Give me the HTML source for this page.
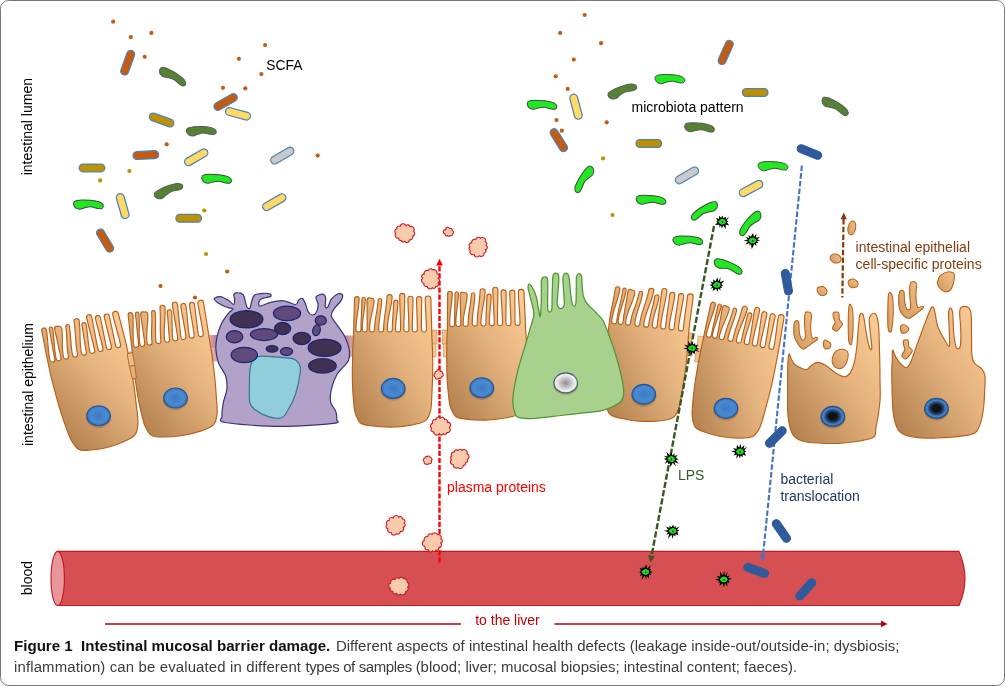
<!DOCTYPE html>
<html><head><meta charset="utf-8"><title>Figure 1</title>
<style>
html,body{margin:0;padding:0;background:#fff;}
body{width:1005px;height:686px;position:relative;overflow:hidden;font-family:"Liberation Sans",sans-serif;}
.frame{position:absolute;left:0;top:0;width:1003px;height:684px;border:1px solid #787878;border-radius:8.5px;box-sizing:content-box;}
svg{position:absolute;left:0;top:0;will-change:transform;}
svg text{font-family:"Liberation Sans",sans-serif;}
.cap{position:absolute;left:14px;top:635.9px;width:980px;font-size:14.93px;line-height:20.8px;color:#3c3c3c;white-space:nowrap;}
#r1{font-size:14.99px;}
.cap b{color:#111;font-weight:bold;font-size:15.1px;margin-right:1.5px;}
</style></head><body>
<div class="frame"></div>
<svg width="1005" height="686" viewBox="0 0 1005 686">
<defs>
<linearGradient id="tan" x1="1" y1="0" x2="0" y2="1">
<stop offset="0" stop-color="#fdcf9a"/><stop offset="0.42" stop-color="#e6b47e"/><stop offset="1" stop-color="#ae7c4a"/>
</linearGradient>
<linearGradient id="tanf" x1="1" y1="0" x2="0" y2="1">
<stop offset="0" stop-color="#f3c189"/><stop offset="1" stop-color="#d09a5f"/>
</linearGradient>
<radialGradient id="nuc" cx="0.5" cy="0.5" r="0.5">
<stop offset="0" stop-color="#3b7ac0"/><stop offset="0.7" stop-color="#4a8ad0"/><stop offset="0.9" stop-color="#3f7ec4"/><stop offset="1" stop-color="#2a62a8"/>
</radialGradient>
<radialGradient id="nucd" cx="0.5" cy="0.5" r="0.5">
<stop offset="0" stop-color="#101010"/><stop offset="0.36" stop-color="#131416"/><stop offset="0.62" stop-color="#264a7a"/><stop offset="0.8" stop-color="#4682c6"/><stop offset="0.93" stop-color="#3b76ba"/><stop offset="1" stop-color="#2a5fa5"/>
</radialGradient>
<radialGradient id="nucw" cx="0.5" cy="0.5" r="0.5">
<stop offset="0" stop-color="#8e8e8e"/><stop offset="0.45" stop-color="#c2c2c2"/><stop offset="0.8" stop-color="#eeeeee"/><stop offset="1" stop-color="#dcdcdc"/>
</radialGradient>
<linearGradient id="jp" x1="0" y1="0" x2="1" y2="0">
<stop offset="0" stop-color="#e2ad96"/><stop offset="1" stop-color="#a86fa0"/>
</linearGradient>
<linearGradient id="jp2" x1="1" y1="0" x2="0" y2="0">
<stop offset="0" stop-color="#e2ad96"/><stop offset="1" stop-color="#a86fa0"/>
</linearGradient>
</defs>
<path d="M57.7,551.4 L959,551.4 Q971,578.4 959,605.5 L57.7,605.5 Z" fill="#d64f52" stroke="#c4161c" stroke-width="1.1"/>
<ellipse cx="57.7" cy="578.45" rx="6.7" ry="27.05" fill="#e9969a" stroke="#c4161c" stroke-width="1.1"/>
<path d="M105,623.9H461M554.5,623.9H882" stroke="#c00000" stroke-width="1.5" fill="none"/>
<path d="M887.5,623.9l-6.5,-3.4v6.8z" fill="#c00000"/>
<rect x="126" y="352" width="9" height="14" fill="#f0c08a" stroke="#c98a4a" stroke-width="0.6"/>
<rect x="128" y="366" width="9" height="13" fill="#f5cb98" stroke="#c98a4a" stroke-width="0.6"/>
<rect x="209" y="335" width="10" height="13.5" fill="url(#jp)"/>
<rect x="211" y="348.5" width="8" height="13" fill="#dba9a4"/>
<rect x="340" y="335.5" width="15" height="12.5" fill="url(#jp2)"/>
<rect x="341" y="348" width="14" height="9" fill="#dba9a4"/>
<rect x="430" y="330" width="7" height="14" fill="#f0c08a" stroke="#c98a4a" stroke-width="0.6"/>
<rect x="430" y="344" width="6" height="13" fill="#f5cb98" stroke="#c98a4a" stroke-width="0.6"/>
<rect x="442.5" y="330" width="6.5" height="14" fill="#f0c08a" stroke="#c98a4a" stroke-width="0.6"/>
<rect x="443.5" y="344" width="5.5" height="13" fill="#f5cb98" stroke="#c98a4a" stroke-width="0.6"/>
<rect x="686" y="333" width="6" height="23" fill="#f0c08a" stroke="#c98a4a" stroke-width="0.6"/>
<rect x="696.5" y="336" width="7.5" height="13" fill="#f5cb98" stroke="#c98a4a" stroke-width="0.6" transform="rotate(8 698 349)"/>
<rect x="696.5" y="349" width="6.5" height="13" fill="#f0c08a" stroke="#c98a4a" stroke-width="0.6" transform="rotate(8 698 349)"/>
<path transform="translate(87.2,354.5) rotate(-12.5)" d="M-40,-0C-40,-10.7 -39.4,-21 -39.2,-32.9C-39.2,-36.2 -34.5,-36.2 -34.5,-32.9C-35.1,-21 -37.6,-13.2 -37.6,-2.5C-37.6,0.8 -32.6,0.8 -32.6,-2.5C-32.6,-13 -31.8,-20.5 -31.5,-32.8C-31.5,-35.4 -28.1,-35.4 -28.1,-32.8C-28.8,-20.5 -31.2,-13 -31.2,-2.5C-31.2,0.8 -26.2,0.8 -26.2,-2.5C-26.2,-12.9 -26.3,-20.3 -26.3,-31.2C-26.3,-33.9 -25.7,-34.2 -24.3,-34.2L-21.4,-33.6C-19.8,-33.6 -19.2,-33.3 -19.2,-30.7C-20.1,-20.3 -23.7,-12.9 -23.7,-2.5C-23.7,0.8 -18.7,0.8 -18.7,-2.5C-18.7,-12.6 -15.7,-19.8 -14.9,-31.5C-14.9,-34.2 -11.3,-34.2 -11.3,-31.5C-11.9,-19.8 -14.4,-12.6 -14.4,-2.5C-14.4,0.8 -9.4,0.8 -9.4,-2.5C-9.4,-13.8 -6.4,-22.2 -5.7,-34.8C-5.7,-38.2 -0.6,-38.2 -0.6,-34.8C-1.5,-22.2 -5.3,-13.8 -5.3,-2.5C-5.3,0.8 -0.3,0.8 -0.3,-2.5C-0.3,-12.2 0.9,-18.8 1.2,-29.6C1.2,-32.6 5.5,-32.6 5.5,-29.6C5,-18.8 3.2,-12.2 3.2,-2.5C3.2,0.8 8.2,0.8 8.2,-2.5C8.2,-14.2 7.6,-22.9 7.4,-36C7.4,-39.4 12.5,-39.4 12.5,-36C12.3,-22.9 11.7,-14.2 11.7,-2.5C11.7,0.8 16.7,0.8 16.7,-2.5C16.7,-13.4 16,-21.2 15.8,-33.2C15.8,-36.6 20.9,-36.6 20.9,-33.2C20.8,-21.2 20.3,-13.4 20.3,-2.5C20.3,0.8 25.3,0.8 25.3,-2.5C25.3,-13.2 24.9,-21 24.8,-32.8C24.8,-36.2 29.9,-36.2 29.9,-32.8C29.8,-21 29.7,-13.2 29.7,-2.5C29.7,0.8 34.7,0.8 34.7,-2.5C34.7,-13.5 33.8,-21.5 33.6,-33.2C33.6,-37 39.3,-37 39.3,-33.2C39.5,-21.5 40.3,-11 40.3,0C40.2,6.5 40.2,12.6 39.9,19.2C39.7,25.8 39.4,32.8 38.9,39.6C38.4,46.4 37.7,53.5 37,60C36.3,66.5 35.9,73.6 34.6,78.4C33.3,83.2 32.5,86.1 29.4,88.6C26.4,91 21.7,92 16.5,93.1C11.3,94.2 4.4,95 -1.6,95.1C-7.6,95.2 -15.1,94.4 -19.7,93.7C-24.2,93 -26.5,92.9 -28.9,90.7C-31.3,88.5 -32.9,83.8 -34,80.4C-35.2,77 -35.2,75.3 -35.9,70.2C-36.6,65.1 -37.7,58.3 -38.3,49.8C-39,41.3 -39.6,27.5 -39.9,19.2C-40.2,10.9 -40,6.5 -40,-0Z" fill="url(#tan)" stroke="#b8601a" stroke-width="1.15" stroke-linejoin="round"/>
<path transform="translate(170.2,341.8) rotate(-7.7)" d="M-38.9,1.2C-38.9,-9.6 -38.3,-19.9 -38.1,-31.9C-38.1,-35.1 -33.4,-35.1 -33.4,-31.9C-34.1,-19.9 -36.6,-12.1 -36.6,-1.4C-36.6,1.9 -31.6,1.7 -31.6,-1.6C-31.6,-12.1 -30.9,-19.6 -30.7,-31.9C-30.7,-34.5 -27.3,-34.5 -27.3,-31.9C-27.9,-19.6 -30.4,-12.1 -30.4,-1.6C-30.4,1.7 -25.4,1.6 -25.4,-1.7C-25.4,-12.1 -25.6,-19.6 -25.6,-30.5C-25.6,-33.2 -25,-33.5 -23.6,-33.5L-20.7,-32.9C-19.1,-32.9 -18.5,-32.6 -18.5,-30C-19.5,-19.6 -23.1,-12.2 -23.1,-1.8C-23.1,1.5 -18.1,1.3 -18.1,-2C-18.1,-12.1 -15.2,-19.4 -14.5,-31.1C-14.5,-33.8 -10.9,-33.8 -10.9,-31.1C-11.5,-19.4 -14,-12.2 -14,-2.1C-14,1.2 -9,1.1 -9,-2.2C-9,-13.6 -6.3,-22.1 -5.6,-34.7C-5.6,-38.1 -0.5,-38.1 -0.5,-34.7C-1.5,-22.1 -5.3,-13.7 -5.3,-2.3C-5.3,1 -0.3,0.8 -0.3,-2.5C-0.3,-12.2 0.8,-18.9 1.1,-29.6C1.1,-32.7 5.4,-32.7 5.4,-29.6C4.9,-18.9 3,-12.3 3,-2.6C3,0.7 8,0.6 8,-2.7C8,-14.4 7.3,-23.2 7.1,-36.2C7.1,-39.7 12.2,-39.7 12.2,-36.2C12,-23.2 11.3,-14.5 11.3,-2.8C11.3,0.5 16.3,0.3 16.3,-3C16.3,-13.8 15.5,-21.8 15.3,-33.7C15.3,-37.1 20.4,-37.1 20.4,-33.7C20.3,-21.8 19.7,-14 19.7,-3.1C19.7,0.2 24.7,0.1 24.7,-3.2C24.7,-14 24.1,-21.8 24,-33.5C24,-37 29.1,-37 29.1,-33.5C29,-21.8 28.8,-14.1 28.8,-3.4C28.8,-0.1 33.8,-0.2 33.8,-3.5C33.8,-14.5 32.8,-22.5 32.6,-34.3C32.6,-38.1 38.3,-38.1 38.3,-34.3C38.4,-22.5 39.1,-12.2 39.1,-1.2C39.2,5.4 39.5,11.6 39.6,18.3C39.6,25 39.6,32.1 39.4,39C39.2,45.9 38.9,53.2 38.4,59.7C38,66.2 37.9,73.2 36.7,78C35.6,82.7 34.8,85.7 31.7,88.1C28.5,90.6 23.4,91.5 17.9,92.6C12.3,93.7 4.8,94.5 -1.7,94.6C-8.3,94.7 -16.4,93.9 -21.3,93.2C-26.2,92.5 -28.7,92.4 -31.2,90.2C-33.6,88 -35.1,83.4 -36.2,80C-37.3,76.6 -37.2,74.9 -37.8,69.8C-38.3,64.8 -39.1,58.1 -39.4,49.7C-39.7,41.4 -39.7,28 -39.6,19.9C-39.5,11.8 -39,7.6 -38.9,1.2Z" fill="url(#tan)" stroke="#b8601a" stroke-width="1.15" stroke-linejoin="round"/>
<path transform="translate(392.6,332) rotate(0)" d="M-38.9,-0C-38.9,-10.7 -38.3,-21 -38.1,-32.9C-38.1,-36.2 -33.4,-36.2 -33.4,-32.9C-34.1,-21 -36.6,-13.2 -36.6,-2.5C-36.6,0.8 -31.6,0.8 -31.6,-2.5C-31.6,-13 -30.9,-20.5 -30.7,-32.8C-30.7,-35.4 -27.3,-35.4 -27.3,-32.8C-27.9,-20.5 -30.4,-13 -30.4,-2.5C-30.4,0.8 -25.4,0.8 -25.4,-2.5C-25.4,-12.9 -25.6,-20.3 -25.6,-31.2C-25.6,-33.9 -25,-34.2 -23.6,-34.2L-20.7,-33.6C-19.1,-33.6 -18.5,-33.3 -18.5,-30.7C-19.5,-20.3 -23.1,-12.9 -23.1,-2.5C-23.1,0.8 -18.1,0.8 -18.1,-2.5C-18.1,-12.6 -15.2,-19.8 -14.5,-31.5C-14.5,-34.2 -10.9,-34.2 -10.9,-31.5C-11.5,-19.8 -14,-12.6 -14,-2.5C-14,0.8 -9,0.8 -9,-2.5C-9,-13.8 -6.3,-22.2 -5.6,-34.8C-5.6,-38.2 -0.5,-38.2 -0.5,-34.8C-1.5,-22.2 -5.3,-13.8 -5.3,-2.5C-5.3,0.8 -0.3,0.8 -0.3,-2.5C-0.3,-12.2 0.8,-18.8 1.1,-29.6C1.1,-32.6 5.4,-32.6 5.4,-29.6C4.9,-18.8 3,-12.2 3,-2.5C3,0.8 8,0.8 8,-2.5C8,-14.2 7.3,-22.9 7.1,-36C7.1,-39.4 12.2,-39.4 12.2,-36C12,-22.9 11.3,-14.2 11.3,-2.5C11.3,0.8 16.3,0.8 16.3,-2.5C16.3,-13.4 15.5,-21.2 15.3,-33.2C15.3,-36.6 20.4,-36.6 20.4,-33.2C20.3,-21.2 19.7,-13.4 19.7,-2.5C19.7,0.8 24.7,0.8 24.7,-2.5C24.7,-13.2 24.1,-21 24,-32.8C24,-36.2 29.1,-36.2 29.1,-32.8C29,-21 28.8,-13.2 28.8,-2.5C28.8,0.8 33.8,0.8 33.8,-2.5C33.8,-13.5 32.8,-21.5 32.6,-33.2C32.6,-37 38.3,-37 38.3,-33.2C38.4,-21.5 39.1,-11 39.1,0C39.3,6.5 39.7,12.6 39.9,19.2C40.1,25.8 40.2,32.8 40.1,39.6C40,46.4 39.8,53.5 39.4,60C39,66.5 39.1,73.6 38,78.4C36.9,83.2 36.1,86.1 32.9,88.6C29.7,91 24.4,92 18.6,93.1C12.8,94.2 5,95 -1.8,95.1C-8.6,95.2 -17.1,94.4 -22.2,93.7C-27.3,93 -29.8,92.9 -32.4,90.7C-34.9,88.5 -36.4,83.8 -37.5,80.4C-38.6,77 -38.4,75.3 -38.9,70.2C-39.4,65.1 -40,58.3 -40.2,49.8C-40.4,41.3 -40.1,27.5 -39.9,19.2C-39.7,10.9 -39,6.5 -38.9,-0Z" fill="url(#tan)" stroke="#b8601a" stroke-width="1.15" stroke-linejoin="round"/>
<path transform="translate(486.3,326) rotate(-1)" d="M-38.9,-0C-38.9,-10.7 -38.3,-21 -38.1,-32.9C-38.1,-36.2 -33.4,-36.2 -33.4,-32.9C-34.1,-21 -36.6,-13.2 -36.6,-2.5C-36.6,0.8 -31.6,0.8 -31.6,-2.5C-31.6,-13 -30.9,-20.5 -30.7,-32.8C-30.7,-35.4 -27.3,-35.4 -27.3,-32.8C-27.9,-20.5 -30.4,-13 -30.4,-2.5C-30.4,0.8 -25.4,0.8 -25.4,-2.5C-25.4,-12.9 -25.6,-20.3 -25.6,-31.2C-25.6,-33.9 -25,-34.2 -23.6,-34.2L-20.7,-33.6C-19.1,-33.6 -18.5,-33.3 -18.5,-30.7C-19.5,-20.3 -23.1,-12.9 -23.1,-2.5C-23.1,0.8 -18.1,0.8 -18.1,-2.5C-18.1,-12.6 -15.2,-19.8 -14.5,-31.5C-14.5,-34.2 -10.9,-34.2 -10.9,-31.5C-11.5,-19.8 -14,-12.6 -14,-2.5C-14,0.8 -9,0.8 -9,-2.5C-9,-13.8 -6.3,-22.2 -5.6,-34.8C-5.6,-38.2 -0.5,-38.2 -0.5,-34.8C-1.5,-22.2 -5.3,-13.8 -5.3,-2.5C-5.3,0.8 -0.3,0.8 -0.3,-2.5C-0.3,-12.2 0.8,-18.8 1.1,-29.6C1.1,-32.6 5.4,-32.6 5.4,-29.6C4.9,-18.8 3,-12.2 3,-2.5C3,0.8 8,0.8 8,-2.5C8,-14.2 7.3,-22.9 7.1,-36C7.1,-39.4 12.2,-39.4 12.2,-36C12,-22.9 11.3,-14.2 11.3,-2.5C11.3,0.8 16.3,0.8 16.3,-2.5C16.3,-13.4 15.5,-21.2 15.3,-33.2C15.3,-36.6 20.4,-36.6 20.4,-33.2C20.3,-21.2 19.7,-13.4 19.7,-2.5C19.7,0.8 24.7,0.8 24.7,-2.5C24.7,-13.2 24.1,-21 24,-32.8C24,-36.2 29.1,-36.2 29.1,-32.8C29,-21 28.8,-13.2 28.8,-2.5C28.8,0.8 33.8,0.8 33.8,-2.5C33.8,-13.5 32.8,-21.5 32.6,-33.2C32.6,-37 38.3,-37 38.3,-33.2C38.4,-21.5 39.1,-11 39.1,0C39.3,6.5 39.7,12.5 39.9,19C40.1,25.5 40.2,32.5 40.1,39.2C40,45.9 39.8,53 39.4,59.4C39,65.8 39.1,72.9 38,77.6C36.9,82.3 36.1,85.2 32.9,87.7C29.7,90.1 24.4,91 18.6,92.1C12.8,93.2 5,94 -1.8,94.1C-8.6,94.2 -17.1,93.4 -22.2,92.7C-27.3,92 -29.8,91.9 -32.4,89.7C-34.9,87.6 -36.4,82.9 -37.5,79.6C-38.6,76.2 -38.4,74.5 -38.9,69.5C-39.4,64.4 -40,57.7 -40.2,49.3C-40.4,40.9 -40.1,27.2 -39.9,19C-39.7,10.8 -39,6.5 -38.9,-0Z" fill="url(#tan)" stroke="#b8601a" stroke-width="1.15" stroke-linejoin="round"/>
<path transform="translate(648.8,327.5) rotate(5)" d="M-39.8,-0.8C-39.8,-12.1 -37.4,-22.7 -36.8,-35.4C-36.8,-38.7 -32.1,-38.7 -32.1,-35.4C-33.2,-22.7 -37.5,-14.5 -37.5,-3.2C-37.5,0.1 -32.5,0.2 -32.5,-3.1C-32.5,-14.2 -29.9,-22.1 -29.2,-35.1C-29.2,-37.7 -25.8,-37.7 -25.8,-35.1C-26.9,-22.1 -31.1,-14.1 -31.1,-3.1C-31.1,0.2 -26.1,0.3 -26.1,-3C-26.1,-13.9 -24.4,-21.7 -24,-33.3C-24,-36 -23.4,-36.3 -22,-36.3L-19.1,-35.7C-17.5,-35.7 -16.9,-35.4 -16.9,-32.8C-18.3,-21.7 -23.6,-13.9 -23.6,-3C-23.6,0.3 -18.6,0.4 -18.6,-2.9C-18.6,-13.5 -13.9,-21 -12.7,-33.4C-12.7,-36.1 -9.1,-36.1 -9.1,-33.4C-10.2,-21 -14.3,-13.4 -14.3,-2.8C-14.3,0.5 -9.3,0.6 -9.3,-2.7C-9.3,-14.6 -4.5,-23.3 -3.3,-36.7C-3.3,-40.1 1.8,-40.1 1.8,-36.7C0.4,-23.3 -5.3,-14.5 -5.3,-2.6C-5.3,0.7 -0.3,0.8 -0.3,-2.5C-0.3,-12.6 2.5,-19.7 3.2,-31.1C3.2,-34.1 7.5,-34.1 7.5,-31.1C6.6,-19.7 3.2,-12.6 3.2,-2.4C3.2,0.9 8.2,1 8.2,-2.3C8.2,-14.6 9.5,-23.8 9.8,-37.7C9.8,-41.1 14.9,-41.1 14.9,-37.7C14.3,-23.8 11.7,-14.6 11.7,-2.3C11.7,1 16.7,1.1 16.7,-2.2C16.7,-13.6 17.8,-21.9 18,-34.5C18,-38 23.1,-38 23.1,-34.5C22.6,-21.9 20.3,-13.5 20.3,-2.1C20.3,1.2 25.3,1.3 25.3,-2C25.3,-13.3 26.6,-21.5 26.9,-34C26.9,-37.4 32,-37.4 32,-34C31.5,-21.5 29.6,-13.2 29.6,-1.9C29.6,1.4 34.6,1.5 34.6,-1.8C34.6,-13.3 35.5,-21.8 35.8,-34.3C35.8,-38.1 41.5,-38.1 41.5,-34.3C41.2,-21.8 40.2,-10.7 40.2,0.8C40.2,7.3 40.4,13.1 40.4,19.5C40.4,26 40.4,32.8 40.1,39.5C39.8,46.1 39.4,53 38.9,59.4C38.4,65.7 38.2,72.9 37,77.6C35.9,82.3 35,85.2 31.9,87.7C28.7,90.1 23.6,91 18,92.1C12.4,93.2 4.8,94 -1.7,94.1C-8.3,94.2 -16.5,93.4 -21.4,92.7C-26.4,92 -28.8,91.9 -31.3,89.7C-33.8,87.6 -35.4,82.9 -36.5,79.6C-37.6,76.2 -37.6,74.5 -38.1,69.5C-38.7,64.4 -39.6,57.6 -39.9,49.1C-40.3,40.6 -40.4,26.8 -40.4,18.4C-40.4,10.1 -39.9,5.7 -39.8,-0.8Z" fill="url(#tan)" stroke="#b8601a" stroke-width="1.15" stroke-linejoin="round"/>
<path transform="translate(741,343.5) rotate(11)" d="M-37.9,-0C-37.9,-10.7 -37.4,-21 -37.2,-32.9C-37.2,-36.2 -32.5,-36.2 -32.5,-32.9C-33.2,-21 -35.7,-13.2 -35.7,-2.5C-35.7,0.8 -30.7,0.8 -30.7,-2.5C-30.7,-13 -30.1,-20.5 -29.9,-32.8C-29.9,-35.4 -26.5,-35.4 -26.5,-32.8C-27.2,-20.5 -29.7,-13 -29.7,-2.5C-29.7,0.8 -24.7,0.8 -24.7,-2.5C-24.7,-12.9 -25,-20.3 -25.1,-31.2C-25.1,-33.9 -24.5,-34.2 -23.1,-34.2L-20.2,-33.6C-18.6,-33.6 -18,-33.3 -18,-30.7C-18.9,-20.3 -22.6,-12.9 -22.6,-2.5C-22.6,0.8 -17.6,0.8 -17.6,-2.5C-17.6,-12.6 -14.9,-19.8 -14.2,-31.5C-14.2,-34.2 -10.6,-34.2 -10.6,-31.5C-11.2,-19.8 -13.7,-12.6 -13.7,-2.5C-13.7,0.8 -8.7,0.8 -8.7,-2.5C-8.7,-13.8 -6.2,-22.2 -5.5,-34.8C-5.5,-38.2 -0.4,-38.2 -0.4,-34.8C-1.4,-22.2 -5.2,-13.8 -5.2,-2.5C-5.2,0.8 -0.2,0.8 -0.2,-2.5C-0.2,-12.2 0.8,-18.8 1,-29.6C1,-32.6 5.3,-32.6 5.3,-29.6C4.8,-18.8 2.9,-12.2 2.9,-2.5C2.9,0.8 7.9,0.8 7.9,-2.5C7.9,-14.2 7.1,-22.9 6.9,-36C6.9,-39.4 12,-39.4 12,-36C11.8,-22.9 11,-14.2 11,-2.5C11,0.8 16,0.8 16,-2.5C16,-13.4 15.1,-21.2 14.8,-33.2C14.8,-36.6 19.9,-36.6 19.9,-33.2C19.8,-21.2 19.1,-13.4 19.1,-2.5C19.1,0.8 24.1,0.8 24.1,-2.5C24.1,-13.2 23.5,-21 23.3,-32.8C23.3,-36.2 28.4,-36.2 28.4,-32.8C28.3,-21 28,-13.2 28,-2.5C28,0.8 33,0.8 33,-2.5C33,-13.5 31.9,-21.5 31.6,-33.2C31.6,-37 37.3,-37 37.3,-33.2C37.5,-21.5 38.1,-11 38.1,0C38.2,6.5 38.3,12.6 38.2,19.2C38.2,25.8 38.1,32.8 37.8,39.6C37.5,46.4 37,53.5 36.5,60C35.9,66.5 35.7,73.6 34.6,78.4C33.5,83.2 32.6,86.1 29.7,88.6C26.7,91 21.9,92 16.7,93.1C11.5,94.2 4.5,95 -1.6,95.1C-7.7,95.2 -15.3,94.4 -19.9,93.7C-24.5,93 -26.8,92.9 -29.2,90.7C-31.5,88.5 -33,83.8 -34.1,80.4C-35.1,77 -35.1,75.3 -35.7,70.2C-36.2,65.1 -37.1,58.3 -37.5,49.8C-38,41.3 -38.2,27.5 -38.2,19.2C-38.3,10.9 -37.9,6.5 -37.9,-0Z" fill="url(#tan)" stroke="#b8601a" stroke-width="1.15" stroke-linejoin="round"/>
<path d="M127.2,353.8L132.5,352.5 134.7,365.2 129.4,366.5Z" fill="#ecbd88" stroke="#b8601a" stroke-width="0.9" stroke-linejoin="round"/>
<path d="M129.4,366.5L134.7,365.2 136.4,377.9 132.5,379.2Z" fill="#e2b07a" stroke="#b8601a" stroke-width="0.9" stroke-linejoin="round"/>
<path d="M214.2,298.6C214.4,297.6 218.2,296.4 220.3,296.6C222.4,296.8 225.9,298.9 228,300.1C230,301.3 232.9,304.7 233.9,304.5C234.8,304.3 234.5,300.1 234.5,298.6C234.5,297.1 233.4,295.3 233.9,294.4C234.3,293.5 236.4,292.6 237.8,292.7C239.2,292.7 242.1,293.5 243.3,294.9C244.4,296.2 244.9,300 245.4,301.9C246,303.7 246.3,306.3 247,307.3C247.6,308.3 249.1,309.2 249.8,308.4C250.5,307.6 250.9,303.8 251.6,301.9C252.2,299.9 252.8,296.5 254.2,295.3C255.6,294.1 258.4,293.8 260.7,293.6C263,293.3 268,293.3 269.5,293.8C271,294.2 271.7,295.7 270.6,296.4C269.5,297.1 264,297.5 262.3,298.4C260.5,299.2 259.3,300.7 259,301.9C258.7,303 258.3,306.2 260.1,306.2C261.8,306.3 267,303.1 270.6,302.3C274.1,301.5 279.9,300.4 283.7,300.8C287.5,301.1 293.5,304.6 295.7,304.5C297.9,304.4 297.6,301 298.6,300.1C299.5,299.2 301.3,297.9 302.3,298.4C303.3,298.8 304.2,301 305.1,303C306,305 307.1,309.9 308.2,311.7C309.2,313.5 310.9,314.8 312.1,315C313.3,315.1 315.1,314.4 316,312.8C317,311.2 318.2,306.8 318.2,304.5C318.2,302.1 315.4,298.6 316,297C316.7,295.5 321.2,294.1 322.6,294.2C324,294.3 325.3,296.1 325.7,297.9C326,299.8 324.9,305.3 325.2,306.7C325.5,308 326.9,308.2 327.8,307.1C328.8,306 329.8,301.2 331.3,299.2C332.9,297.2 336.6,294.4 338.3,293.8C340,293.2 342.4,294.2 342.7,295.3C343,296.4 341.8,299.4 340.5,301.4C339.2,303.5 335.3,306.7 334,308.9C332.6,311 331,313.8 331.3,316.1C331.7,318.3 334.1,320.6 336.1,323.7C338.2,326.8 342.9,332.9 344.9,336.8C346.9,340.8 348.8,346.3 349.3,349.9C349.8,353.6 350,357.3 348.2,360.9C346.4,364.5 339.8,369.7 337.2,374C334.7,378.3 332.3,385 331.3,389.3C330.4,393.6 330,399.1 330.7,402.4C331.3,405.7 334.8,408.6 335.7,411.1C336.6,413.7 336.9,417.6 336.6,419.5C336.3,421.3 342.1,422.3 333.5,423.4C324.9,424.4 295.6,426.6 279.3,426.4C263.1,426.3 233.7,424.1 225.1,422.5C216.5,420.9 222.3,419 222,416C221.8,412.9 222.6,406.4 223.4,402.4C224.1,398.4 226.5,393.2 226.9,389.3C227.2,385.4 227,380.1 225.8,376.2C224.5,372.2 220,367 218.6,363.1C217.1,359.1 216.2,353.9 215.9,349.9C215.7,346 216.2,340.8 217,336.8C217.8,332.9 219.7,327.3 221.4,323.7C223.1,320.2 226.9,315.5 228.6,313.2C230.3,311 233.2,309.7 233,308.9C232.7,308 229,308.2 226.9,307.3C224.7,306.5 220.5,304.5 218.6,303.2C216.7,301.9 213.9,299.6 214.2,298.6Z" fill="#b3a2c7" stroke="#33337f" stroke-width="1.2" stroke-linejoin="round"/>
<path d="M258.6,356.5C262,355.7 269.9,356.6 274.9,356.9C280,357.3 288.8,357.7 292.4,358.7C296,359.7 297.8,361.5 299,363.5C300.2,365.5 300.8,367.3 300.3,371.8C299.8,376.3 297.6,387.8 295.7,393.7C293.8,399.5 289.8,407.1 287.6,410.7C285.5,414.3 284.4,416.8 281.5,417.7C278.6,418.6 272.4,417.9 268.4,416.6C264.4,415.4 257.6,411.5 254.8,409.4C252,407.3 250.6,406.1 249.8,402.4C249,398.7 249.4,389.5 249.4,384.9C249.4,380.3 249.4,375.2 249.8,371.8C250.2,368.4 250.7,364.3 252,362C253.3,359.7 255.1,357.3 258.6,356.5Z" fill="#92cddc" stroke="#2c7b90" stroke-width="1.2"/>
<ellipse cx="246.5" cy="319.3" rx="16.4" ry="8.7" fill="#403152" stroke="#1a2470" stroke-width="1.25"/>
<ellipse cx="287" cy="313.4" rx="13.6" ry="7.2" fill="#604a7b" stroke="#1a2470" stroke-width="1.25"/>
<ellipse cx="320.8" cy="320.4" rx="5.5" ry="4.6" fill="#604a7b" stroke="#1a2470" stroke-width="1.25"/>
<ellipse cx="316.5" cy="330.3" rx="3.7" ry="5.5" fill="#604a7b" stroke="#1a2470" stroke-width="1.25" transform="rotate(15 316.5 330.3)"/>
<ellipse cx="282.6" cy="328.5" rx="8.1" ry="6.1" fill="#403152" stroke="#1a2470" stroke-width="1.25"/>
<ellipse cx="264" cy="334.6" rx="13.6" ry="5.9" fill="#604a7b" stroke="#1a2470" stroke-width="1.25"/>
<ellipse cx="234.5" cy="336.8" rx="8.3" ry="6.1" fill="#604a7b" stroke="#1a2470" stroke-width="1.25"/>
<ellipse cx="301.8" cy="338.4" rx="8.7" ry="6.1" fill="#403152" stroke="#1a2470" stroke-width="1.25"/>
<ellipse cx="324.6" cy="347.8" rx="16.4" ry="8.7" fill="#403152" stroke="#1a2470" stroke-width="1.25"/>
<ellipse cx="272.1" cy="348.9" rx="5.9" ry="3.3" fill="#403152" stroke="#1a2470" stroke-width="1.25"/>
<ellipse cx="286.5" cy="351.5" rx="6.1" ry="3.9" fill="#604a7b" stroke="#1a2470" stroke-width="1.25"/>
<ellipse cx="244.3" cy="355" rx="13.1" ry="7.7" fill="#604a7b" stroke="#1a2470" stroke-width="1.25"/>
<ellipse cx="322.4" cy="365.9" rx="13.8" ry="7.2" fill="#403152" stroke="#1a2470" stroke-width="1.25"/>
<path d="M515.2,413.9C514.3,411.4 512.5,405.8 512.8,399.9C513.1,393.9 515.6,380 517.5,371.9C519.4,363.8 524.1,349.5 526,343C527.9,336.5 529.9,329.5 531,325.7C532.1,321.9 533.4,318.6 533.7,316.3C534,314 533.8,311.9 533.3,309.3C532.8,306.7 531.1,300.7 530.4,297.7C529.7,294.7 528.3,290.2 528.1,288.3C527.9,286.4 528.6,284.4 529.2,284.2C529.8,284 531.2,285.5 532.2,287.2C533.2,288.9 535.3,293.4 536.2,296.5C537.1,299.6 538,306.5 538.6,309.3C539.2,312.1 539.9,317.9 540.3,316.6C540.7,315.3 541.1,305.2 541.3,300C541.5,294.8 541.1,283.5 541.5,280.2C541.9,276.9 543.5,277.1 544.4,277C545.3,276.9 547.1,276.3 547.6,279.6C548.1,282.9 547.6,295.7 547.6,300C547.6,304.3 547.6,308.2 547.9,309.9C548.2,311.6 549.1,312.3 549.7,312.2C550.3,312.1 551.4,311.9 551.8,309.3C552.2,306.8 552,298.8 552.2,294.2C552.4,289.6 552.4,279.7 552.9,276.7C553.4,273.7 554.9,273.2 555.7,273.2C556.5,273.2 558.5,273.7 558.8,276.7C559.1,279.7 558,290.2 557.8,294.2C557.6,298.2 556.8,302.6 557.2,304.7C557.6,306.8 559.7,308.7 560.7,308.7C561.7,308.7 563.8,307.6 564.2,304.7C564.6,301.8 563.6,292.3 563.4,288.3C563.2,284.3 562.7,278.8 563.1,276.7C563.5,274.6 565.2,273.2 566,273.2C566.8,273.2 568.2,273.7 568.9,276.7C569.6,279.7 570.2,290.3 570.7,294.2C571.2,298.1 571.9,302.4 572.4,304.1C572.9,305.8 573.7,306.5 574.2,306.4C574.7,306.3 575.6,306.1 575.9,303.5C576.2,300.9 576.2,292.1 576.3,288.3C576.4,284.5 576.1,278.8 576.5,276.7C576.9,274.6 578.7,273.6 579.4,273.7C580.1,273.8 581.3,275.1 581.7,277.2C582.1,279.3 582,285.6 582.3,288.3C582.6,291 582.8,294.3 583.5,296.5C584.2,298.7 585.3,301.3 587,303.5C588.7,305.7 592.9,309.2 595.2,311.7C597.5,314.2 601.3,317.4 603.3,321C605.3,324.6 607.7,331.7 609.6,336.9C611.5,342.1 614.8,351.6 616.6,357.9C618.4,364.2 621.4,375.9 622.4,381.2C623.4,386.5 624,392.2 623.6,395.2C623.2,398.2 622.4,400.5 619.4,402.7C616.4,404.9 607.3,409 602.6,410.4C597.9,411.8 591.6,412 586.3,412.7C581,413.4 572.6,414.2 565.3,415C558,415.8 541.5,418.1 535,418.5C528.5,418.9 521.9,418.3 519.1,417.6C516.3,416.9 516.1,416.4 515.2,413.9Z" fill="#a9d18e" stroke="#4f9632" stroke-width="1.25" stroke-linejoin="round"/>
<path d="M789.1,354C789.6,353.2 790.5,357.6 791.4,359.2C792.3,360.8 793.6,363.8 795.7,365.3C797.8,366.8 804,369.7 806.2,369.7C808.4,369.7 809.9,366.3 811.5,365.3C813.1,364.3 815.6,362.3 817.6,362.3C819.6,362.3 822.9,363.8 825.5,365.3C828.1,366.8 833.3,371.6 836,373.2C838.7,374.8 842.7,376.7 844.7,376.7C846.7,376.7 848.6,375.2 850,373.2C851.4,371.2 853.3,366.7 854.3,362.7C855.3,358.7 856.4,350.2 857,345.2C857.6,340.2 857.9,331.8 858.3,327.7C858.7,323.6 859.2,318.3 859.6,316.3C860,314.3 860.7,313.4 861.3,313.4C861.9,313.4 863,314 863.6,316.3C864.2,318.6 865,325.6 865.7,329.5C866.4,333.4 867.6,340.7 868.3,343.5C869,346.3 870.1,349.1 870.6,349.6C871.1,350.1 871.9,349.6 871.8,347C871.7,344.4 870.5,335.2 870.1,331.2C869.7,327.2 869,321.4 869.2,319C869.4,316.6 870.9,314.8 871.8,314.1C872.7,313.4 874.5,313.1 875.3,313.8C876.1,314.5 877.1,316.8 877.6,319C878.1,321.2 878.5,324.1 878.8,329.5C879.1,334.9 879.5,350.2 879.7,357.4C879.9,364.6 880,373.8 880,380C880,386.2 880.6,394.6 880,401.3C879.4,408 877.1,422.3 876,427.5C874.9,432.7 877.1,435.8 872.1,438C867.1,440.2 849.9,442.7 840.6,443.3C831.3,443.9 813.2,443.1 806.5,442C799.8,440.9 796,438.9 793.4,435.4C790.8,431.9 788.9,423.7 788.1,417C787.3,410.3 787.6,395.5 787.6,388.1C787.6,380.7 787.6,369.8 787.8,365C788,360.2 788.6,354.8 789.1,354Z" fill="url(#tan)" stroke="#b8601a" stroke-width="1.15" stroke-linejoin="round"/>
<path d="M892.6,350.1C893,349.4 893.8,353.4 894.9,355.3C896,357.2 898.5,361.5 900.1,363.2C901.7,364.9 904.7,367.7 906.2,367.6C907.7,367.5 909.1,365.4 910.6,362.3C912.1,359.2 914.8,350.8 916.7,345.7C918.6,340.6 921.8,331.5 923.7,326.5C925.6,321.5 928.6,313.5 929.8,310.7C931,307.9 931.8,306.9 932.5,306.9C933.2,306.9 933.9,307.9 934.6,310.7C935.3,313.5 936.5,322.8 937.7,326.5C938.9,330.2 941.5,334.3 943,337C944.5,339.7 947.3,344.7 948.2,345.7C949.1,346.7 949.5,346.7 949.6,344C949.7,341.3 949.2,331 949.1,326.5C949,322 948.4,315.1 948.6,312.5C948.8,309.9 949.7,308.1 950.3,308.1C950.9,308.1 952.1,309.4 952.6,312.5C953.1,315.6 953.1,325.3 953.5,330C953.9,334.7 955,343 955.6,345.7C956.2,348.4 957.1,348.8 957.8,348.8C958.5,348.8 960,348.4 960.4,345.7C960.8,343 960.9,334.7 960.8,330C960.7,325.3 959.6,315.7 959.6,312.5C959.6,309.3 960.2,308.5 960.8,307.6C961.4,306.7 962.8,306.3 963.9,306.3C965,306.3 967.3,306.7 968.3,307.6C969.3,308.5 970.4,309.3 970.9,312.5C971.4,315.7 971.4,324.1 971.5,330C971.6,335.9 971.4,349.7 971.8,354.4C972.2,359.1 973,361.2 974.4,363.2C975.8,365.2 979.9,366.7 981.4,368.4C982.9,370.1 984.4,373.3 984.9,375.4C985.4,377.5 985.2,378.6 985,383C984.8,387.4 984.4,400.6 983.7,406.5C983,412.4 981.5,421 979.8,424.9C978.1,428.8 977.9,432.2 971.9,434.1C965.9,436 946.4,437.6 937.8,438C929.2,438.4 917.1,437.8 911.5,436.7C905.9,435.6 901,433.6 898.4,430.1C895.8,426.6 894,419.6 893.1,411.8C892.2,404 891.9,382.3 891.8,375C891.7,367.7 892.1,363.5 892.2,360C892.3,356.5 892.2,350.8 892.6,350.1Z" fill="url(#tan)" stroke="#b8601a" stroke-width="1.15" stroke-linejoin="round"/>
<path d="M794.9,321.6C794.4,322.1 794.1,322.5 794,324.2C793.9,325.9 793.7,332.4 794,334.7C794.3,337 795.7,340 796.6,341.7C797.5,343.4 799.9,346.9 801,347.8C802.1,348.7 803.2,349.2 804.5,348.7C805.8,348.2 808.9,345.6 810.6,344.3C812.3,343 816.9,340 817.6,339.1C818.3,338.2 816.6,337.4 815.9,337.3C815.2,337.2 813.1,339.5 812.4,338.2C811.7,336.9 810.7,330.7 810.6,327.7C810.5,324.7 811.5,317.5 811.5,315.5C811.5,313.5 811.1,313.3 810.6,312.8C810.1,312.3 808.7,312 808,312C807.3,312 805.9,311.4 805.4,312.8C804.9,314.2 804.5,319.3 804.5,322.5C804.5,325.7 805.5,334.2 805.4,336.5C805.3,338.8 804.2,339.8 803.6,340C803,340.2 801.6,339.4 801,338.2C800.4,337 799.5,333.3 799.2,331.2C798.9,329.1 799.1,323.9 798.9,322.5C798.7,321.1 798,320.8 797.5,320.7C797,320.6 795.4,321.1 794.9,321.6Z" fill="url(#tanf)" stroke="#b8601a" stroke-width="1.05" stroke-linejoin="round"/>
<path d="M824.6,340C825.6,339.8 830,342.5 830.7,343.5C831.4,344.5 830.5,347.1 829.8,347.8C829.1,348.5 826.4,349.3 825.5,349C824.6,348.7 823.5,346.4 823.4,345.2C823.3,344 823.6,340.2 824.6,340Z" fill="url(#tanf)" stroke="#b8601a" stroke-width="1.05" stroke-linejoin="round"/>
<path d="M833.3,312.8C834,312.2 837.8,311.6 838.6,312.5C839.4,313.4 839,318.2 839.5,319.8C840,321.4 843,322.7 842.6,324.2C842.2,325.7 838.1,330.6 836.8,331.2C835.5,331.8 833,329.3 832.5,328.6C832,327.9 833,326.8 833.3,326C833.6,325.2 835.1,323.7 835.1,322.5C835.1,321.3 833.5,318.5 833.3,317.2C833.1,315.9 832.6,313.4 833.3,312.8Z" fill="url(#tanf)" stroke="#b8601a" stroke-width="1.05" stroke-linejoin="round"/>
<path d="M850,304.1C850.5,304.3 852.2,307.1 852.6,310.2C853,313.3 853.2,323.3 853.1,327.7C853,332.1 852.1,341.3 851.7,343.5C851.3,345.7 850.4,344.8 850,344.3C849.6,343.8 848.8,342.9 848.6,340C848.4,337.1 848.2,326.7 848.2,322.5C848.2,318.3 848.5,311 848.7,308.5C848.9,306 849.5,303.9 850,304.1Z" fill="url(#tanf)" stroke="#b8601a" stroke-width="1.05" stroke-linejoin="round"/>
<path d="M839.5,349.6C840.9,349.3 844.4,349.5 845.6,350.1C846.8,350.7 848.1,352.3 848.2,354C848.3,355.7 847.3,360.8 846.5,362.7C845.7,364.6 843.4,367.3 842.1,368C840.8,368.7 838.1,368.6 836.8,368C835.5,367.4 833.1,365 832.5,363.6C831.9,362.2 832.2,358.9 832.5,357.4C832.8,355.9 834.2,353.2 835.1,352.2C836,351.2 838.1,349.9 839.5,349.6Z" fill="url(#tanf)" stroke="#b8601a" stroke-width="1.05" stroke-linejoin="round"/>
<path d="M817.6,287.5C818.3,286.8 821.6,286.3 822.8,286.6C824,286.9 826.5,289 826.9,290.1C827.3,291.2 826.6,293.8 825.8,294.5C825,295.2 822.2,295.7 821.1,295.4C820,295.1 818.1,293 817.6,291.9C817.1,290.8 816.9,288.2 817.6,287.5Z" fill="url(#tanf)" stroke="#b8601a" stroke-width="1.05" stroke-linejoin="round"/>
<path d="M848.6,280.5C849.3,279.7 852.3,278.9 853.5,279.1C854.7,279.3 857.3,281.2 857.8,282.2C858.3,283.2 857.8,285.9 857,286.6C856.2,287.3 852.8,288 851.7,287.8C850.6,287.6 849,285.9 848.6,284.9C848.2,283.9 847.9,281.3 848.6,280.5Z" fill="url(#tanf)" stroke="#b8601a" stroke-width="1.05" stroke-linejoin="round"/>
<path d="M890.1,292.4C890.7,292.7 892.2,294.5 892.6,297.6C893,300.7 893.3,311.6 893.1,316C892.9,320.4 891.9,328.7 891.4,330.8C890.9,332.9 889.6,332.3 889.1,331.7C888.6,331.1 888.1,330 887.9,326.5C887.7,323 887.8,309.7 887.9,305.5C888,301.3 888.1,296.7 888.4,295C888.7,293.3 889.5,292.1 890.1,292.4Z" fill="url(#tanf)" stroke="#b8601a" stroke-width="1.05" stroke-linejoin="round"/>
<path d="M900.1,291.1C899.6,291.7 899.1,293.1 898.9,295C898.7,296.9 898.6,303.2 898.9,305.5C899.2,307.8 900,310.9 901,312.5C902,314.1 904.9,317 906.2,317.7C907.5,318.4 909.2,318.3 910.6,317.7C912,317.1 915,314.6 916.7,313.3C918.4,312 922.7,308.5 923.4,307.6C924.1,306.7 922.8,306.4 922,306.3C921.2,306.2 918.4,308.7 917.6,307.2C916.8,305.7 916,298 915.9,295C915.8,292 916.8,286.2 916.7,284.5C916.6,282.8 915.7,282.2 915,281.9C914.3,281.6 912.5,281.6 911.8,281.9C911.1,282.2 910.4,282.8 910.1,284.5C909.8,286.2 909.6,292 909.7,295C909.8,298 910.8,305.2 910.6,307.2C910.4,309.2 908.9,309.8 908.3,309.8C907.7,309.8 906.4,308.5 905.9,307.2C905.4,305.9 904.7,302.2 904.5,300.2C904.3,298.2 904.3,293.7 904.1,292.4C903.9,291.1 903.2,290.8 902.7,290.6C902.2,290.4 900.6,290.5 900.1,291.1Z" fill="url(#tanf)" stroke="#b8601a" stroke-width="1.05" stroke-linejoin="round"/>
<path d="M901.3,325.1C901.9,324.6 904.4,324.6 905.4,325.1C906.4,325.6 908.8,328.1 908.9,329.1C909,330.1 907.1,332.1 906.2,332.6C905.3,333.1 902.6,333.6 901.9,333.1C901.2,332.6 900.7,330.2 900.6,329.1C900.5,328 900.7,325.6 901.3,325.1Z" fill="url(#tanf)" stroke="#b8601a" stroke-width="1.05" stroke-linejoin="round"/>
<path d="M903.6,340.4C904.2,339.8 907.3,339.3 908,340.1C908.7,340.9 908.3,345.2 908.9,346.6C909.5,348 912.8,349.3 912.4,350.9C912,352.5 907.6,358.1 906.2,358.8C904.8,359.5 902.4,356.9 901.9,356.2C901.4,355.5 902.3,354.5 902.7,353.6C903.1,352.7 904.7,350.7 904.8,349.5C904.9,348.3 903.8,346 903.6,344.8C903.4,343.6 903,341 903.6,340.4Z" fill="url(#tanf)" stroke="#b8601a" stroke-width="1.05" stroke-linejoin="round"/>
<path d="M941.2,274.9C942.4,274 945.7,272.1 947.3,271.9C948.9,271.7 952.6,272.2 953.5,273.1C954.4,274 954.5,276.4 954.3,278.4C954.1,280.4 952.6,286.2 951.7,288C950.8,289.8 948.7,291.6 947.3,291.8C945.9,292 942.5,290.8 941.2,289.7C939.9,288.6 937.7,285.1 937.4,283.6C937.1,282.1 938.1,279.6 938.6,278.4C939.1,277.2 940,275.8 941.2,274.9Z" fill="url(#tanf)" stroke="#b8601a" stroke-width="1.05" stroke-linejoin="round"/>
<ellipse cx="851.8" cy="227.9" rx="3.8" ry="7" fill="url(#tanf)" stroke="#b8601a" stroke-width="1.05" transform="rotate(12 851.8 227.9)"/>
<ellipse cx="835.6" cy="258.5" rx="5.6" ry="4.4" fill="url(#tanf)" stroke="#b8601a" stroke-width="1.05" transform="rotate(20 835.6 258.5)"/>
<ellipse cx="98.6" cy="417.4" rx="12.7" ry="10.5" fill="#4a2f14" opacity="0.22"/>
<ellipse cx="98.6" cy="415.7" rx="11.8" ry="10" fill="url(#nuc)" stroke="#25559a" stroke-width="1.15"/>
<ellipse cx="175.5" cy="399.7" rx="12.7" ry="10.5" fill="#4a2f14" opacity="0.22"/>
<ellipse cx="175.5" cy="398" rx="11.8" ry="10" fill="url(#nuc)" stroke="#25559a" stroke-width="1.15"/>
<ellipse cx="393.2" cy="390.1" rx="12.7" ry="10.5" fill="#4a2f14" opacity="0.22"/>
<ellipse cx="393.2" cy="388.4" rx="11.8" ry="10" fill="url(#nuc)" stroke="#25559a" stroke-width="1.15"/>
<ellipse cx="481.8" cy="389.4" rx="12.7" ry="10.5" fill="#4a2f14" opacity="0.22"/>
<ellipse cx="481.8" cy="387.7" rx="11.8" ry="10" fill="url(#nuc)" stroke="#25559a" stroke-width="1.15"/>
<ellipse cx="643.8" cy="396" rx="12.7" ry="10.5" fill="#4a2f14" opacity="0.22"/>
<ellipse cx="643.8" cy="394.3" rx="11.8" ry="10" fill="url(#nuc)" stroke="#25559a" stroke-width="1.15"/>
<ellipse cx="726" cy="410" rx="12.7" ry="10.5" fill="#4a2f14" opacity="0.22"/>
<ellipse cx="726" cy="408.3" rx="11.8" ry="10" fill="url(#nuc)" stroke="#25559a" stroke-width="1.15"/>
<ellipse cx="565.7" cy="384.6" rx="12.7" ry="10.5" fill="#4a2f14" opacity="0.22"/>
<ellipse cx="565.7" cy="382.9" rx="11.8" ry="10" fill="url(#nucw)" stroke="#4a5d78" stroke-width="1.15"/>
<ellipse cx="832.9" cy="418.1" rx="12.7" ry="10.5" fill="#4a2f14" opacity="0.22"/>
<ellipse cx="832.9" cy="416.4" rx="11.8" ry="10" fill="url(#nucd)" stroke="#1f4f8f" stroke-width="1.15"/>
<ellipse cx="936.5" cy="410.1" rx="12.7" ry="10.5" fill="#4a2f14" opacity="0.22"/>
<ellipse cx="936.5" cy="408.4" rx="11.8" ry="10" fill="url(#nucd)" stroke="#1f4f8f" stroke-width="1.15"/>
<circle cx="113.2" cy="21.7" r="2.1" fill="#c55a11"/>
<circle cx="130.8" cy="37.1" r="2.1" fill="#c55a11"/>
<circle cx="151.4" cy="32.9" r="2.1" fill="#c55a11"/>
<circle cx="144.7" cy="56.8" r="2.1" fill="#c55a11"/>
<circle cx="265.1" cy="45.1" r="2.1" fill="#c55a11"/>
<circle cx="238.9" cy="58.8" r="2.1" fill="#c55a11"/>
<circle cx="261.4" cy="74.1" r="2.1" fill="#c55a11"/>
<circle cx="223" cy="87.8" r="2.1" fill="#c55a11"/>
<circle cx="245.3" cy="88.3" r="2.1" fill="#c55a11"/>
<circle cx="166.7" cy="144.3" r="2.1" fill="#c55a11"/>
<circle cx="317.7" cy="155.6" r="2.1" fill="#c55a11"/>
<circle cx="227.2" cy="271.5" r="2.1" fill="#c55a11"/>
<circle cx="160.5" cy="286" r="2.1" fill="#c55a11"/>
<circle cx="195" cy="297.5" r="2.1" fill="#c55a11"/>
<circle cx="584.7" cy="15" r="2.1" fill="#c55a11"/>
<circle cx="560.2" cy="32.9" r="2.1" fill="#c55a11"/>
<circle cx="601.1" cy="43.2" r="2.1" fill="#c55a11"/>
<circle cx="573.8" cy="59.6" r="2.1" fill="#c55a11"/>
<circle cx="555.7" cy="76.3" r="2.1" fill="#c55a11"/>
<circle cx="567.7" cy="88.9" r="2.1" fill="#c55a11"/>
<circle cx="556.5" cy="120.1" r="2.1" fill="#c55a11"/>
<circle cx="561.8" cy="130.7" r="2.1" fill="#c55a11"/>
<circle cx="606.7" cy="122.3" r="2.1" fill="#c55a11"/>
<circle cx="129.4" cy="171" r="2.1" fill="#bf9000"/>
<circle cx="100.1" cy="180.4" r="2.1" fill="#bf9000"/>
<circle cx="204.3" cy="210.5" r="2.1" fill="#bf9000"/>
<circle cx="206" cy="254" r="2.1" fill="#bf9000"/>
<circle cx="603.1" cy="158.4" r="2.1" fill="#bf9000"/>
<circle cx="612.5" cy="215" r="2.1" fill="#bf9000"/>
<rect x="-12.8" y="-3.9" width="25.6" height="7.8" rx="3.9" fill="#c55a11" stroke="#4e83b4" stroke-width="1.25" transform="translate(127.7,62.7) rotate(-70)"/>
<rect x="-12.8" y="-3.9" width="25.6" height="7.8" rx="3.9" fill="#c55a11" stroke="#4e83b4" stroke-width="1.25" transform="translate(225.6,102) rotate(-30)"/>
<rect x="-12.8" y="-3.9" width="25.6" height="7.8" rx="3.9" fill="#ffd966" stroke="#4e83b4" stroke-width="1.25" transform="translate(238,113.8) rotate(15)"/>
<rect x="-12.8" y="-3.9" width="25.6" height="7.8" rx="3.9" fill="#bf9000" stroke="#4e83b4" stroke-width="1.25" transform="translate(161.6,120) rotate(20)"/>
<rect x="-12.8" y="-3.9" width="25.6" height="7.8" rx="3.9" fill="#bf9000" stroke="#4e83b4" stroke-width="1.25" transform="translate(92,167.9) rotate(0)"/>
<rect x="-12.8" y="-3.9" width="25.6" height="7.8" rx="3.9" fill="#c55a11" stroke="#4e83b4" stroke-width="1.25" transform="translate(145.8,155.1) rotate(-3)"/>
<rect x="-12.8" y="-3.9" width="25.6" height="7.8" rx="3.9" fill="#ffd966" stroke="#4e83b4" stroke-width="1.25" transform="translate(196.2,157.3) rotate(-30)"/>
<rect x="-12.8" y="-3.9" width="25.6" height="7.8" rx="3.9" fill="#c9c9c9" stroke="#4e83b4" stroke-width="1.25" transform="translate(282.3,155.6) rotate(-30)"/>
<rect x="-12.8" y="-3.9" width="25.6" height="7.8" rx="3.9" fill="#ffd966" stroke="#4e83b4" stroke-width="1.25" transform="translate(122.7,206.1) rotate(74)"/>
<rect x="-12.8" y="-3.9" width="25.6" height="7.8" rx="3.9" fill="#ffd966" stroke="#4e83b4" stroke-width="1.25" transform="translate(274.3,202.2) rotate(-30)"/>
<rect x="-12.8" y="-3.9" width="25.6" height="7.8" rx="3.9" fill="#bf9000" stroke="#4e83b4" stroke-width="1.25" transform="translate(188.7,218.3) rotate(0)"/>
<rect x="-12.8" y="-3.9" width="25.6" height="7.8" rx="3.9" fill="#c55a11" stroke="#4e83b4" stroke-width="1.25" transform="translate(105.1,240.6) rotate(59)"/>
<rect x="-12.8" y="-3.9" width="25.6" height="7.8" rx="3.9" fill="#c55a11" stroke="#4e83b4" stroke-width="1.25" transform="translate(725.7,52.4) rotate(-66)"/>
<rect x="-12.8" y="-3.9" width="25.6" height="7.8" rx="3.9" fill="#bf9000" stroke="#4e83b4" stroke-width="1.25" transform="translate(755.2,92.5) rotate(0)"/>
<rect x="-12.8" y="-3.9" width="25.6" height="7.8" rx="3.9" fill="#ffd966" stroke="#4e83b4" stroke-width="1.25" transform="translate(576,106.7) rotate(75)"/>
<rect x="-12.8" y="-3.9" width="25.6" height="7.8" rx="3.9" fill="#c55a11" stroke="#4e83b4" stroke-width="1.25" transform="translate(558.8,140.2) rotate(58)"/>
<rect x="-12.8" y="-3.9" width="25.6" height="7.8" rx="3.9" fill="#bf9000" stroke="#4e83b4" stroke-width="1.25" transform="translate(648.8,143.5) rotate(0)"/>
<rect x="-12.8" y="-3.9" width="25.6" height="7.8" rx="3.9" fill="#c9c9c9" stroke="#4e83b4" stroke-width="1.25" transform="translate(686.9,175.4) rotate(-30)"/>
<rect x="-12.8" y="-3.9" width="25.6" height="7.8" rx="3.9" fill="#ffd966" stroke="#4e83b4" stroke-width="1.25" transform="translate(751,188.5) rotate(-28)"/>
<path d="M-14.9,-0.7C-14.8,-1.6 -14.7,-2.8 -13.4,-3.4C-12.1,-4.1 -9.6,-4.4 -7,-4.6C-4.4,-4.7 -0.6,-4.6 2.3,-4.4C5.2,-4.1 8.5,-3.6 10.5,-3C12.5,-2.4 13.5,-1.5 14.2,-0.7C14.9,-0 15,0.7 14.9,1.4C14.8,2.1 14.3,3.3 13.4,3.6C12.5,4 11.2,3.9 9.3,3.6C7.5,3.4 4.4,2.2 2.3,2.1C0.2,2 -1.8,2.7 -3.5,3.1C-5.2,3.5 -6.7,4.5 -8.2,4.6C-9.7,4.7 -11.3,4.2 -12.3,3.6C-13.3,3.1 -13.8,2.1 -14.2,1.4C-14.6,0.7 -15,0.1 -14.9,-0.7Z" fill="#548235" stroke="#5a5a5a" stroke-width="1" transform="translate(172.8,76.6) rotate(28)"/>
<path d="M-14.9,-0.7C-14.8,-1.6 -14.7,-2.8 -13.4,-3.4C-12.1,-4.1 -9.6,-4.4 -7,-4.6C-4.4,-4.7 -0.6,-4.6 2.3,-4.4C5.2,-4.1 8.5,-3.6 10.5,-3C12.5,-2.4 13.5,-1.5 14.2,-0.7C14.9,-0 15,0.7 14.9,1.4C14.8,2.1 14.3,3.3 13.4,3.6C12.5,4 11.2,3.9 9.3,3.6C7.5,3.4 4.4,2.2 2.3,2.1C0.2,2 -1.8,2.7 -3.5,3.1C-5.2,3.5 -6.7,4.5 -8.2,4.6C-9.7,4.7 -11.3,4.2 -12.3,3.6C-13.3,3.1 -13.8,2.1 -14.2,1.4C-14.6,0.7 -15,0.1 -14.9,-0.7Z" fill="#548235" stroke="#5a5a5a" stroke-width="1" transform="translate(201.3,131) rotate(-2)"/>
<path d="M-14.9,-0.7C-14.8,-1.6 -14.7,-2.8 -13.4,-3.4C-12.1,-4.1 -9.6,-4.4 -7,-4.6C-4.4,-4.7 -0.6,-4.6 2.3,-4.4C5.2,-4.1 8.5,-3.6 10.5,-3C12.5,-2.4 13.5,-1.5 14.2,-0.7C14.9,-0 15,0.7 14.9,1.4C14.8,2.1 14.3,3.3 13.4,3.6C12.5,4 11.2,3.9 9.3,3.6C7.5,3.4 4.4,2.2 2.3,2.1C0.2,2 -1.8,2.7 -3.5,3.1C-5.2,3.5 -6.7,4.5 -8.2,4.6C-9.7,4.7 -11.3,4.2 -12.3,3.6C-13.3,3.1 -13.8,2.1 -14.2,1.4C-14.6,0.7 -15,0.1 -14.9,-0.7Z" fill="#22e822" stroke="#3c4a3c" stroke-width="1" transform="translate(216.6,179) rotate(2)"/>
<path d="M-14.9,-0.7C-14.8,-1.6 -14.7,-2.8 -13.4,-3.4C-12.1,-4.1 -9.6,-4.4 -7,-4.6C-4.4,-4.7 -0.6,-4.6 2.3,-4.4C5.2,-4.1 8.5,-3.6 10.5,-3C12.5,-2.4 13.5,-1.5 14.2,-0.7C14.9,-0 15,0.7 14.9,1.4C14.8,2.1 14.3,3.3 13.4,3.6C12.5,4 11.2,3.9 9.3,3.6C7.5,3.4 4.4,2.2 2.3,2.1C0.2,2 -1.8,2.7 -3.5,3.1C-5.2,3.5 -6.7,4.5 -8.2,4.6C-9.7,4.7 -11.3,4.2 -12.3,3.6C-13.3,3.1 -13.8,2.1 -14.2,1.4C-14.6,0.7 -15,0.1 -14.9,-0.7Z" fill="#548235" stroke="#5a5a5a" stroke-width="1" transform="translate(168.4,190.5) rotate(-24)"/>
<path d="M-14.9,-0.7C-14.8,-1.6 -14.7,-2.8 -13.4,-3.4C-12.1,-4.1 -9.6,-4.4 -7,-4.6C-4.4,-4.7 -0.6,-4.6 2.3,-4.4C5.2,-4.1 8.5,-3.6 10.5,-3C12.5,-2.4 13.5,-1.5 14.2,-0.7C14.9,-0 15,0.7 14.9,1.4C14.8,2.1 14.3,3.3 13.4,3.6C12.5,4 11.2,3.9 9.3,3.6C7.5,3.4 4.4,2.2 2.3,2.1C0.2,2 -1.8,2.7 -3.5,3.1C-5.2,3.5 -6.7,4.5 -8.2,4.6C-9.7,4.7 -11.3,4.2 -12.3,3.6C-13.3,3.1 -13.8,2.1 -14.2,1.4C-14.6,0.7 -15,0.1 -14.9,-0.7Z" fill="#22e822" stroke="#3c4a3c" stroke-width="1" transform="translate(88.4,204.7) rotate(0.5)"/>
<path d="M-14.9,-0.7C-14.8,-1.6 -14.7,-2.8 -13.4,-3.4C-12.1,-4.1 -9.6,-4.4 -7,-4.6C-4.4,-4.7 -0.6,-4.6 2.3,-4.4C5.2,-4.1 8.5,-3.6 10.5,-3C12.5,-2.4 13.5,-1.5 14.2,-0.7C14.9,-0 15,0.7 14.9,1.4C14.8,2.1 14.3,3.3 13.4,3.6C12.5,4 11.2,3.9 9.3,3.6C7.5,3.4 4.4,2.2 2.3,2.1C0.2,2 -1.8,2.7 -3.5,3.1C-5.2,3.5 -6.7,4.5 -8.2,4.6C-9.7,4.7 -11.3,4.2 -12.3,3.6C-13.3,3.1 -13.8,2.1 -14.2,1.4C-14.6,0.7 -15,0.1 -14.9,-0.7Z" fill="#22e822" stroke="#3c4a3c" stroke-width="1" transform="translate(669.9,79.1) rotate(0)"/>
<path d="M-14.9,-0.7C-14.8,-1.6 -14.7,-2.8 -13.4,-3.4C-12.1,-4.1 -9.6,-4.4 -7,-4.6C-4.4,-4.7 -0.6,-4.6 2.3,-4.4C5.2,-4.1 8.5,-3.6 10.5,-3C12.5,-2.4 13.5,-1.5 14.2,-0.7C14.9,-0 15,0.7 14.9,1.4C14.8,2.1 14.3,3.3 13.4,3.6C12.5,4 11.2,3.9 9.3,3.6C7.5,3.4 4.4,2.2 2.3,2.1C0.2,2 -1.8,2.7 -3.5,3.1C-5.2,3.5 -6.7,4.5 -8.2,4.6C-9.7,4.7 -11.3,4.2 -12.3,3.6C-13.3,3.1 -13.8,2.1 -14.2,1.4C-14.6,0.7 -15,0.1 -14.9,-0.7Z" fill="#548235" stroke="#5a5a5a" stroke-width="1" transform="translate(622.2,90.9) rotate(-22.5)"/>
<path d="M-14.9,-0.7C-14.8,-1.6 -14.7,-2.8 -13.4,-3.4C-12.1,-4.1 -9.6,-4.4 -7,-4.6C-4.4,-4.7 -0.6,-4.6 2.3,-4.4C5.2,-4.1 8.5,-3.6 10.5,-3C12.5,-2.4 13.5,-1.5 14.2,-0.7C14.9,-0 15,0.7 14.9,1.4C14.8,2.1 14.3,3.3 13.4,3.6C12.5,4 11.2,3.9 9.3,3.6C7.5,3.4 4.4,2.2 2.3,2.1C0.2,2 -1.8,2.7 -3.5,3.1C-5.2,3.5 -6.7,4.5 -8.2,4.6C-9.7,4.7 -11.3,4.2 -12.3,3.6C-13.3,3.1 -13.8,2.1 -14.2,1.4C-14.6,0.7 -15,0.1 -14.9,-0.7Z" fill="#22e822" stroke="#3c4a3c" stroke-width="1" transform="translate(542,105) rotate(2)"/>
<path d="M-14.9,-0.7C-14.8,-1.6 -14.7,-2.8 -13.4,-3.4C-12.1,-4.1 -9.6,-4.4 -7,-4.6C-4.4,-4.7 -0.6,-4.6 2.3,-4.4C5.2,-4.1 8.5,-3.6 10.5,-3C12.5,-2.4 13.5,-1.5 14.2,-0.7C14.9,-0 15,0.7 14.9,1.4C14.8,2.1 14.3,3.3 13.4,3.6C12.5,4 11.2,3.9 9.3,3.6C7.5,3.4 4.4,2.2 2.3,2.1C0.2,2 -1.8,2.7 -3.5,3.1C-5.2,3.5 -6.7,4.5 -8.2,4.6C-9.7,4.7 -11.3,4.2 -12.3,3.6C-13.3,3.1 -13.8,2.1 -14.2,1.4C-14.6,0.7 -15,0.1 -14.9,-0.7Z" fill="#548235" stroke="#5a5a5a" stroke-width="1" transform="translate(699.5,127.6) rotate(3)"/>
<path d="M-14.9,-0.7C-14.8,-1.6 -14.7,-2.8 -13.4,-3.4C-12.1,-4.1 -9.6,-4.4 -7,-4.6C-4.4,-4.7 -0.6,-4.6 2.3,-4.4C5.2,-4.1 8.5,-3.6 10.5,-3C12.5,-2.4 13.5,-1.5 14.2,-0.7C14.9,-0 15,0.7 14.9,1.4C14.8,2.1 14.3,3.3 13.4,3.6C12.5,4 11.2,3.9 9.3,3.6C7.5,3.4 4.4,2.2 2.3,2.1C0.2,2 -1.8,2.7 -3.5,3.1C-5.2,3.5 -6.7,4.5 -8.2,4.6C-9.7,4.7 -11.3,4.2 -12.3,3.6C-13.3,3.1 -13.8,2.1 -14.2,1.4C-14.6,0.7 -15,0.1 -14.9,-0.7Z" fill="#22e822" stroke="#3c4a3c" stroke-width="1" transform="translate(583.8,179.3) rotate(-55) scale(-1,1)"/>
<path d="M-14.9,-0.7C-14.8,-1.6 -14.7,-2.8 -13.4,-3.4C-12.1,-4.1 -9.6,-4.4 -7,-4.6C-4.4,-4.7 -0.6,-4.6 2.3,-4.4C5.2,-4.1 8.5,-3.6 10.5,-3C12.5,-2.4 13.5,-1.5 14.2,-0.7C14.9,-0 15,0.7 14.9,1.4C14.8,2.1 14.3,3.3 13.4,3.6C12.5,4 11.2,3.9 9.3,3.6C7.5,3.4 4.4,2.2 2.3,2.1C0.2,2 -1.8,2.7 -3.5,3.1C-5.2,3.5 -6.7,4.5 -8.2,4.6C-9.7,4.7 -11.3,4.2 -12.3,3.6C-13.3,3.1 -13.8,2.1 -14.2,1.4C-14.6,0.7 -15,0.1 -14.9,-0.7Z" fill="#22e822" stroke="#3c4a3c" stroke-width="1" transform="translate(773,166.2) rotate(0)"/>
<path d="M-14.9,-0.7C-14.8,-1.6 -14.7,-2.8 -13.4,-3.4C-12.1,-4.1 -9.6,-4.4 -7,-4.6C-4.4,-4.7 -0.6,-4.6 2.3,-4.4C5.2,-4.1 8.5,-3.6 10.5,-3C12.5,-2.4 13.5,-1.5 14.2,-0.7C14.9,-0 15,0.7 14.9,1.4C14.8,2.1 14.3,3.3 13.4,3.6C12.5,4 11.2,3.9 9.3,3.6C7.5,3.4 4.4,2.2 2.3,2.1C0.2,2 -1.8,2.7 -3.5,3.1C-5.2,3.5 -6.7,4.5 -8.2,4.6C-9.7,4.7 -11.3,4.2 -12.3,3.6C-13.3,3.1 -13.8,2.1 -14.2,1.4C-14.6,0.7 -15,0.1 -14.9,-0.7Z" fill="#22e822" stroke="#3c4a3c" stroke-width="1" transform="translate(651,200) rotate(2)"/>
<path d="M-14.9,-0.7C-14.8,-1.6 -14.7,-2.8 -13.4,-3.4C-12.1,-4.1 -9.6,-4.4 -7,-4.6C-4.4,-4.7 -0.6,-4.6 2.3,-4.4C5.2,-4.1 8.5,-3.6 10.5,-3C12.5,-2.4 13.5,-1.5 14.2,-0.7C14.9,-0 15,0.7 14.9,1.4C14.8,2.1 14.3,3.3 13.4,3.6C12.5,4 11.2,3.9 9.3,3.6C7.5,3.4 4.4,2.2 2.3,2.1C0.2,2 -1.8,2.7 -3.5,3.1C-5.2,3.5 -6.7,4.5 -8.2,4.6C-9.7,4.7 -11.3,4.2 -12.3,3.6C-13.3,3.1 -13.8,2.1 -14.2,1.4C-14.6,0.7 -15,0.1 -14.9,-0.7Z" fill="#22e822" stroke="#3c4a3c" stroke-width="1" transform="translate(704.2,210.8) rotate(-28) scale(-1,1)"/>
<path d="M-14.9,-0.7C-14.8,-1.6 -14.7,-2.8 -13.4,-3.4C-12.1,-4.1 -9.6,-4.4 -7,-4.6C-4.4,-4.7 -0.6,-4.6 2.3,-4.4C5.2,-4.1 8.5,-3.6 10.5,-3C12.5,-2.4 13.5,-1.5 14.2,-0.7C14.9,-0 15,0.7 14.9,1.4C14.8,2.1 14.3,3.3 13.4,3.6C12.5,4 11.2,3.9 9.3,3.6C7.5,3.4 4.4,2.2 2.3,2.1C0.2,2 -1.8,2.7 -3.5,3.1C-5.2,3.5 -6.7,4.5 -8.2,4.6C-9.7,4.7 -11.3,4.2 -12.3,3.6C-13.3,3.1 -13.8,2.1 -14.2,1.4C-14.6,0.7 -15,0.1 -14.9,-0.7Z" fill="#22e822" stroke="#3c4a3c" stroke-width="1" transform="translate(749.9,223.3) rotate(-47) scale(-1,1)"/>
<path d="M-14.9,-0.7C-14.8,-1.6 -14.7,-2.8 -13.4,-3.4C-12.1,-4.1 -9.6,-4.4 -7,-4.6C-4.4,-4.7 -0.6,-4.6 2.3,-4.4C5.2,-4.1 8.5,-3.6 10.5,-3C12.5,-2.4 13.5,-1.5 14.2,-0.7C14.9,-0 15,0.7 14.9,1.4C14.8,2.1 14.3,3.3 13.4,3.6C12.5,4 11.2,3.9 9.3,3.6C7.5,3.4 4.4,2.2 2.3,2.1C0.2,2 -1.8,2.7 -3.5,3.1C-5.2,3.5 -6.7,4.5 -8.2,4.6C-9.7,4.7 -11.3,4.2 -12.3,3.6C-13.3,3.1 -13.8,2.1 -14.2,1.4C-14.6,0.7 -15,0.1 -14.9,-0.7Z" fill="#22e822" stroke="#3c4a3c" stroke-width="1" transform="translate(687.8,240.6) rotate(0.5)"/>
<path d="M-14.9,-0.7C-14.8,-1.6 -14.7,-2.8 -13.4,-3.4C-12.1,-4.1 -9.6,-4.4 -7,-4.6C-4.4,-4.7 -0.6,-4.6 2.3,-4.4C5.2,-4.1 8.5,-3.6 10.5,-3C12.5,-2.4 13.5,-1.5 14.2,-0.7C14.9,-0 15,0.7 14.9,1.4C14.8,2.1 14.3,3.3 13.4,3.6C12.5,4 11.2,3.9 9.3,3.6C7.5,3.4 4.4,2.2 2.3,2.1C0.2,2 -1.8,2.7 -3.5,3.1C-5.2,3.5 -6.7,4.5 -8.2,4.6C-9.7,4.7 -11.3,4.2 -12.3,3.6C-13.3,3.1 -13.8,2.1 -14.2,1.4C-14.6,0.7 -15,0.1 -14.9,-0.7Z" fill="#22e822" stroke="#3c4a3c" stroke-width="1" transform="translate(728.2,266.5) rotate(19.5)"/>
<path d="M-14.9,-0.7C-14.8,-1.6 -14.7,-2.8 -13.4,-3.4C-12.1,-4.1 -9.6,-4.4 -7,-4.6C-4.4,-4.7 -0.6,-4.6 2.3,-4.4C5.2,-4.1 8.5,-3.6 10.5,-3C12.5,-2.4 13.5,-1.5 14.2,-0.7C14.9,-0 15,0.7 14.9,1.4C14.8,2.1 14.3,3.3 13.4,3.6C12.5,4 11.2,3.9 9.3,3.6C7.5,3.4 4.4,2.2 2.3,2.1C0.2,2 -1.8,2.7 -3.5,3.1C-5.2,3.5 -6.7,4.5 -8.2,4.6C-9.7,4.7 -11.3,4.2 -12.3,3.6C-13.3,3.1 -13.8,2.1 -14.2,1.4C-14.6,0.7 -15,0.1 -14.9,-0.7Z" fill="#548235" stroke="#5a5a5a" stroke-width="1" transform="translate(835.3,106.3) rotate(28)"/>
<path d="M439.5,562.5V264" stroke="#ff0000" stroke-width="2.4" stroke-dasharray="5.2 1.9" fill="none"/>
<path d="M439.5,258.8l3.4,6.6h-6.8z" fill="#ff0000"/>
<path d="M412.6,236.1A2.7,2.7 0 0 1 409.4,239.8A2.5,2.5 0 0 1 404.7,241.2A1.9,1.9 0 0 1 401.3,240.2A1.8,1.8 0 0 1 398.7,238.2A3.1,3.1 0 0 1 395.8,233.2A2.4,2.4 0 0 1 396.8,228.9A2.3,2.3 0 0 1 400.3,226.4A2.8,2.8 0 0 1 405.8,225.8A2.5,2.5 0 0 1 410.2,226.6A3.1,3.1 0 0 1 413.6,231.4A2.6,2.6 0 0 1 412.6,236.1Z" fill="#f8cbad" stroke="#cc1a22" stroke-width="1.1" stroke-linejoin="round"/>
<path d="M452.7,233.7A1.5,1.5 0 0 1 450.3,235.3A1.3,1.3 0 0 1 447.9,235.5A1.7,1.7 0 0 1 445.1,233.9A2.1,2.1 0 0 1 445.8,229.7A1.9,1.9 0 0 1 449.4,228.5A2.1,2.1 0 0 1 452.4,230.7A1.7,1.7 0 0 1 452.7,233.7Z" fill="#f8cbad" stroke="#cc1a22" stroke-width="1.1" stroke-linejoin="round"/>
<path d="M484,252.9A3,3 0 0 1 479.2,255.8A2.8,2.8 0 0 1 474.1,254.4A2.8,2.8 0 0 1 470.5,250.3A1.8,1.8 0 0 1 470,246.9A2.2,2.2 0 0 1 471.8,243A2.9,2.9 0 0 1 475.7,239.5A2.8,2.8 0 0 1 480.6,238.3A3,3 0 0 1 485.3,241.8A2,2 0 0 1 485.9,245.4A2.1,2.1 0 0 1 485.4,249.5A2,2 0 0 1 484,252.9Z" fill="#f8cbad" stroke="#cc1a22" stroke-width="1.1" stroke-linejoin="round"/>
<path d="M438,282.7A2.3,2.3 0 0 1 435.7,286.4A2,2 0 0 1 432.2,287.7A2.7,2.7 0 0 1 427.2,286.2A2.4,2.4 0 0 1 423.9,283.2A2.8,2.8 0 0 1 422.6,278.2A2.2,2.2 0 0 1 424.2,274.2A3,3 0 0 1 428.2,270.6A2.4,2.4 0 0 1 432.6,270A3.1,3.1 0 0 1 436.9,273.7A2.6,2.6 0 0 1 438,278.5A2.2,2.2 0 0 1 438,282.7Z" fill="#f8cbad" stroke="#cc1a22" stroke-width="1.1" stroke-linejoin="round"/>
<path d="M441.6,376.9A1.4,1.4 0 0 1 439.1,377.9A1.9,1.9 0 0 1 435.4,377.2A1.9,1.9 0 0 1 435,373.6A1.6,1.6 0 0 1 436.7,371.4A1.8,1.8 0 0 1 440.3,371.4A1.5,1.5 0 0 1 442.4,373.3A2,2 0 0 1 441.6,376.9Z" fill="#f8cbad" stroke="#cc1a22" stroke-width="1.1" stroke-linejoin="round"/>
<path d="M449.3,427.5A2.9,2.9 0 0 1 446.7,432.5A2,2 0 0 1 443.1,433.7A1.9,1.9 0 0 1 439.4,433.6A3,3 0 0 1 433.8,431.9A2.3,2.3 0 0 1 431.5,428.3A3,3 0 0 1 432.7,423.1A2.4,2.4 0 0 1 435.9,419.8A2.3,2.3 0 0 1 440.1,418.3A2.4,2.4 0 0 1 444.5,419.5A2.1,2.1 0 0 1 447.3,422.2A2.9,2.9 0 0 1 449.3,427.5Z" fill="#f8cbad" stroke="#cc1a22" stroke-width="1.1" stroke-linejoin="round"/>
<path d="M431.2,460.8A1.8,1.8 0 0 1 428.8,463.4A1.3,1.3 0 0 1 426.5,464A1.8,1.8 0 0 1 424.2,461.6A2,2 0 0 1 424.9,458A1.3,1.3 0 0 1 427,456.9A1.7,1.7 0 0 1 430.2,457.5A1.8,1.8 0 0 1 431.2,460.8Z" fill="#f8cbad" stroke="#cc1a22" stroke-width="1.1" stroke-linejoin="round"/>
<path d="M465.5,462.5A2,2 0 0 1 463.3,465.3A3,3 0 0 1 458.1,467.5A3.1,3.1 0 0 1 453.2,464.5A2.6,2.6 0 0 1 451.6,459.7A2,2 0 0 1 451.8,456.1A2.4,2.4 0 0 1 454.2,452.2A2.2,2.2 0 0 1 457.9,450.5A2.2,2.2 0 0 1 461.9,450.5A3.1,3.1 0 0 1 467,453.7A3.3,3.3 0 0 1 467.2,459.7A1.8,1.8 0 0 1 465.5,462.5Z" fill="#f8cbad" stroke="#cc1a22" stroke-width="1.1" stroke-linejoin="round"/>
<path d="M400.2,531.4A2.5,2.5 0 0 1 396.1,533.6A2.5,2.5 0 0 1 391.3,532.6A2.9,2.9 0 0 1 387.8,528.8A2.3,2.3 0 0 1 386.9,524.8A2.7,2.7 0 0 1 389,520.4A2.6,2.6 0 0 1 393.2,518.1A2.8,2.8 0 0 1 398.6,517.3A2.1,2.1 0 0 1 402.3,518.9A2.5,2.5 0 0 1 404.1,523.3A2,2 0 0 1 403.1,527.1A2.7,2.7 0 0 1 400.2,531.4Z" fill="#f8cbad" stroke="#cc1a22" stroke-width="1.1" stroke-linejoin="round"/>
<path d="M438.8,547.2A2,2 0 0 1 436.1,549.9A2,2 0 0 1 432.6,550.8A2.4,2.4 0 0 1 428.2,549.5A2.4,2.4 0 0 1 425,546.4A3,3 0 0 1 424.3,540.6A2.9,2.9 0 0 1 427.8,536.7A2.5,2.5 0 0 1 432.1,534.6A2.8,2.8 0 0 1 437.4,534.6A3.1,3.1 0 0 1 440.9,539A2.1,2.1 0 0 1 440.6,543.1A2.3,2.3 0 0 1 438.8,547.2Z" fill="#f8cbad" stroke="#cc1a22" stroke-width="1.1" stroke-linejoin="round"/>
<path d="M405.7,591.4A3.3,3.3 0 0 1 400.4,594.1A2.2,2.2 0 0 1 396.5,593.2A2.1,2.1 0 0 1 392.9,591.2A2.3,2.3 0 0 1 390.3,587.8A2.4,2.4 0 0 1 390.7,583.1A3.2,3.2 0 0 1 395.3,579.5A2,2 0 0 1 398.9,578.6A2.8,2.8 0 0 1 403.9,579A2.5,2.5 0 0 1 407.1,582.2A2.6,2.6 0 0 1 407.6,586.9A2.8,2.8 0 0 1 405.7,591.4Z" fill="#f8cbad" stroke="#cc1a22" stroke-width="1.1" stroke-linejoin="round"/>
<path d="M714,226L651.6,555.5" stroke="#385723" stroke-width="2.4" stroke-dasharray="6.2 2.2" fill="none"/>
<path d="M650.3,562.5l-2.2,-7.4 6.8,1.3z" fill="#385723"/>
<path d="M801.9,165.5L763.2,554" stroke="#4472c4" stroke-width="2.1" stroke-dasharray="5.6 2.1" fill="none"/>
<path d="M762.4,561l-2.6,-6.8 5.8,0.6z" fill="#4472c4"/>
<path d="M843.6,219L842.3,297.5" stroke="#843c0c" stroke-width="2.2" stroke-dasharray="5.5 2.2" fill="none"/>
<path d="M843.8,212.5l3,6.8h-6.2z" fill="#843c0c"/>
<rect x="-12.8" y="-3.9" width="25.6" height="7.8" rx="3.9" fill="#2f5a9c" stroke="#2f5a9c" stroke-width="1.25" transform="translate(809.4,152) rotate(22)"/>
<rect x="-12.8" y="-3.9" width="25.6" height="7.8" rx="3.9" fill="#2f5a9c" stroke="#2f5a9c" stroke-width="1.25" transform="translate(786.9,282.2) rotate(80)"/>
<rect x="-12.8" y="-3.9" width="25.6" height="7.8" rx="3.9" fill="#2f5a9c" stroke="#2f5a9c" stroke-width="1.25" transform="translate(775.9,437) rotate(-45)"/>
<rect x="-12.8" y="-3.9" width="25.6" height="7.8" rx="3.9" fill="#2f5a9c" stroke="#2f5a9c" stroke-width="1.25" transform="translate(781.4,531) rotate(55)"/>
<rect x="-12.8" y="-3.9" width="25.6" height="7.8" rx="3.9" fill="#2f5a9c" stroke="#2f5a9c" stroke-width="1.25" transform="translate(756.2,570.4) rotate(20)"/>
<rect x="-12.8" y="-3.9" width="25.6" height="7.8" rx="3.9" fill="#2f5a9c" stroke="#2f5a9c" stroke-width="1.25" transform="translate(805.8,589.3) rotate(-48)"/>
<path d="M728.4,221.3L726.9,222.5L729.4,225.4L725.7,224.4L725.8,229L723.1,225.6L722,228.6L720.8,225.5L719.6,227.4L719.2,224.8L714.9,225.1L717.5,222.4L716,221.9L717.6,220.9L716,217.8L719,218.9L719.1,215.7L721.2,218L722.3,215.6L723.5,218.1L725.8,216.8L725.9,219.3L729.3,216.6L726.6,220.4Z" fill="#000"/>
<path d="M718.1,221.8Q720.2,218.5 722.7,218.8Q725.8,219.4 726.2,222.1Q725.2,224.8 722.2,224.8Q719.6,224.4 718.1,221.8Z" fill="#1fdc1f"/>
<circle cx="722.4" cy="222.1" r="0.9" fill="#0a3a0a"/>
<path d="M760.5,239.9L757.1,241.2L758.1,243L756.1,242.9L756.5,245.9L754.2,244L751.8,249.2L750.9,244.1L749.8,246L749.4,243.3L745.6,244.5L747.9,241.4L743.7,240.6L747.9,239.5L745.3,236.9L748.9,237.9L748.5,234.9L750.8,236.8L753,233L754,236.7L756.5,233.5L755.9,237.7L759.8,237.1L757.2,239.8Z" fill="#000"/>
<path d="M748.4,240.4Q750.5,237.1 753,237.4Q756.1,238 756.5,240.7Q755.5,243.4 752.5,243.4Q749.9,243 748.4,240.4Z" fill="#1fdc1f"/>
<circle cx="752.7" cy="240.7" r="0.9" fill="#0a3a0a"/>
<path d="M723,285.7L721.2,286.4L722.2,288.1L720.1,287.8L720.7,290.6L718.4,288.6L717.6,291.8L716.1,288.8L712.6,291.1L713.2,287.5L710.6,289.1L712.3,286.2L709.4,285.1L712.2,284L710.2,281.6L713.3,282.4L713.2,279.2L715.4,281.3L717.5,277.6L718.4,281.4L720.7,277.1L719.9,282.1L724.3,280.5L721.3,283.9Z" fill="#000"/>
<path d="M712.7,285Q714.8,281.7 717.3,282Q720.4,282.6 720.8,285.3Q719.8,288 716.8,288Q714.2,287.6 712.7,285Z" fill="#1fdc1f"/>
<circle cx="717" cy="285.3" r="0.9" fill="#0a3a0a"/>
<path d="M698.7,348.9L696.3,349.6L699.8,352.1L695.4,350.8L694.6,354.5L692.6,352L691.5,355.6L690.5,351.9L688.4,353.3L688.3,350.7L686.7,351.6L687.4,349.4L683.1,348.6L687.3,347.4L684,344.4L688.3,345.7L688.2,341.1L690.9,344.4L692.2,342L693.4,344.5L695.1,342.9L695.3,345.5L698.4,344.6L696.5,347.3Z" fill="#000"/>
<path d="M687.8,348.2Q689.9,344.9 692.4,345.2Q695.5,345.8 695.9,348.5Q694.9,351.2 691.9,351.2Q689.3,350.8 687.8,348.2Z" fill="#1fdc1f"/>
<circle cx="692.1" cy="348.5" r="0.9" fill="#0a3a0a"/>
<path d="M678.6,459.2L675.8,460.1L678.7,463.7L674.5,461.9L676,466.5L672.7,462.8L670.4,467.1L669.5,462.7L668.2,464.5L667.9,461.9L664.7,463.7L666.8,460.5L663.8,458.8L666.7,458L663.9,455.8L667.5,456.6L666.5,451.7L669.8,455.4L671.3,452.3L672.5,455.4L674.5,453.2L674.5,456.3L677.8,454.6L675.7,457.8Z" fill="#000"/>
<path d="M667.1,459.1Q669.2,455.8 671.7,456.1Q674.8,456.7 675.2,459.4Q674.2,462.1 671.2,462.1Q668.6,461.7 667.1,459.1Z" fill="#1fdc1f"/>
<circle cx="671.4" cy="459.4" r="0.9" fill="#0a3a0a"/>
<path d="M746.1,451.3L744.5,452.4L745.9,456L742.9,454.6L742.5,457.2L740.7,455.4L739.9,458.4L738.7,455.3L736.3,458.8L736.8,454.5L733.6,455.5L735.4,452.7L731.1,451.5L735.3,450.6L732.9,447.8L736.5,448.9L737,444.8L739.2,447.8L740.4,443.6L741.4,447.9L744.5,445.1L743.5,449.1L747.1,446.6L744.4,450.3Z" fill="#000"/>
<path d="M735.8,451.6Q737.9,448.3 740.4,448.6Q743.5,449.2 743.9,451.9Q742.9,454.6 739.9,454.6Q737.3,454.2 735.8,451.6Z" fill="#1fdc1f"/>
<circle cx="740.1" cy="451.9" r="0.9" fill="#0a3a0a"/>
<path d="M679.4,530.2L677.3,531.6L678.6,535.4L675.6,534L675.5,536.5L673.6,534.8L672.7,539L671.4,534.7L668,538.5L669.2,533.7L666.3,534.8L668.1,532.1L663.8,530.7L668.1,529.9L666.1,526.4L669.6,528L669.4,525.7L671.3,527.3L673.1,524.8L674.2,527.4L675.5,525.5L675.8,528.2L679.2,526.4L677.1,529.7Z" fill="#000"/>
<path d="M668.5,531Q670.6,527.7 673.1,528Q676.2,528.6 676.6,531.3Q675.6,534 672.6,534Q670,533.6 668.5,531Z" fill="#1fdc1f"/>
<circle cx="672.8" cy="531.3" r="0.9" fill="#0a3a0a"/>
<path d="M652.9,572L650.1,573L651.5,575.2L649,574.6L648.9,578.6L646.5,575.8L646.2,579.4L644.7,575.8L641.6,579.9L642.4,574.9L640,576L641.1,573.4L639.3,572.2L640.9,571.1L639.6,567.6L642.6,569L642,566.8L644,568.3L646.3,564.6L647.2,568.4L650.8,564.9L649.2,569.6L650.8,568.8L650,570.9Z" fill="#000"/>
<path d="M641.4,572Q643.5,568.7 646,569Q649.1,569.6 649.5,572.3Q648.5,575 645.5,575Q642.9,574.6 641.4,572Z" fill="#1fdc1f"/>
<circle cx="645.7" cy="572.3" r="0.9" fill="#0a3a0a"/>
<path d="M732.4,578.5L728.4,580.1L729.5,583L727,582.3L727.7,586.4L724.9,583.2L724.1,587.5L722.7,583.3L719.5,586.3L720.2,582.1L718.2,583.6L719.3,580.9L714.9,579.5L719.1,578.5L716.7,575.7L720.3,576.8L720.2,571.4L723,575.7L724.1,570.7L725.1,575.8L727.6,571.6L726.8,576.6L729.3,575.6L728.1,578.2Z" fill="#000"/>
<path d="M719.6,579.5Q721.7,576.2 724.2,576.5Q727.3,577.1 727.7,579.8Q726.7,582.5 723.7,582.5Q721.1,582.1 719.6,579.5Z" fill="#1fdc1f"/>
<circle cx="723.9" cy="579.8" r="0.9" fill="#0a3a0a"/>
<text x="266.3" y="69.5" fill="#000" font-size="13.8">SCFA</text>
<text x="631.6" y="111.5" fill="#000" font-size="14">microbiota pattern</text>
<text x="855.6" y="251.5" fill="#843c0c" font-size="14">intestinal epithelial</text>
<text x="855.6" y="268.8" fill="#843c0c" font-size="14">cell-specific proteins</text>
<text x="447" y="492" fill="#ff0000" font-size="14">plasma proteins</text>
<text x="678" y="480.4" fill="#385723" font-size="14">LPS</text>
<text x="780.4" y="484" fill="#1f3864" font-size="14">bacterial</text>
<text x="780.4" y="500.6" fill="#1f3864" font-size="14">translocation</text>
<text x="475.2" y="625.4" fill="#c00000" font-size="14">to the liver</text>
<text transform="translate(32,175.3) rotate(-90)" font-size="14" fill="#000">intestinal lumen</text>
<text transform="translate(33,446) rotate(-90)" font-size="14" fill="#000">intestinal epithelium</text>
<text transform="translate(32,595.2) rotate(-90)" font-size="14" fill="#000">blood</text>
</svg>
<div class="cap"><span id="l1"><b id="b1">Figure 1&nbsp; Intestinal mucosal barrier damage.</b> <span id="r1">Different aspects of intestinal health defects (leakage inside-out/outside-in; dysbiosis;</span></span><br><span id="l2"><span style="letter-spacing:0.145px">inflammation) can be evaluated in different </span><span id="ty" style="letter-spacing:-0.35px">types of samples </span><span id="bl">(blood; liver; mucosal biopsies; </span><span id="it">intestinal content; faeces).</span></span></div>
</body></html>
